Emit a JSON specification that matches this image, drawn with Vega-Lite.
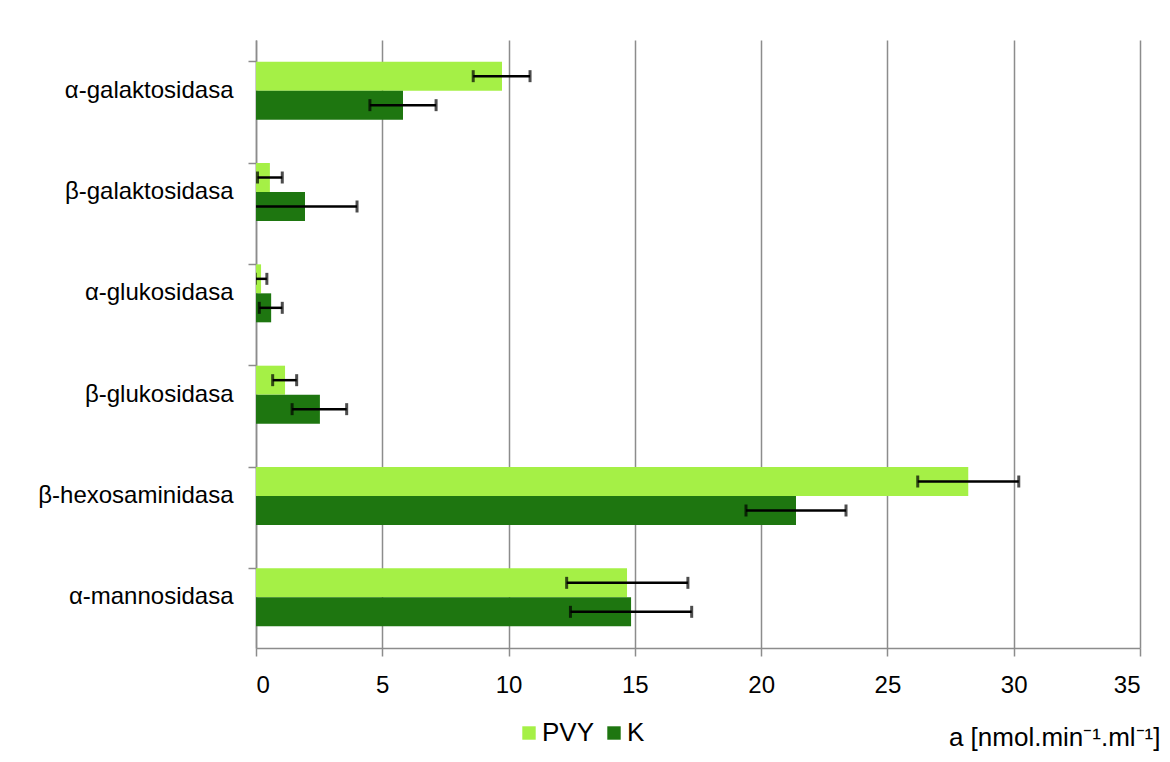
{
  "$schema": "https://vega.github.io/schema/vega-lite/v6.json",
  "width": 884,
  "height": 608,
  "autosize": {"type": "none"},
  "padding": {"left": 256, "top": 40, "right": 30, "bottom": 114},
  "background": "white",
  "config": {
    "view": {"stroke": null},
    "font": "Liberation Sans",
    "axis": {"labelFont": "Liberation Sans", "labelColor": "black", "domainColor": "#8c8c8c", "tickColor": "#8c8c8c", "gridColor": "#8c8c8c", "domainWidth": 1.5, "tickWidth": 1.5, "gridWidth": 1.5}
  },
  "data": {
    "values": [
      {"enzyme": "α-galaktosidasa", "series": "PVY", "value": 9.74, "lo": 8.6, "hi": 10.85},
      {"enzyme": "α-galaktosidasa", "series": "K", "value": 5.82, "lo": 4.51, "hi": 7.13},
      {"enzyme": "β-galaktosidasa", "series": "PVY", "value": 0.55, "lo": 0.06, "hi": 1.04},
      {"enzyme": "β-galaktosidasa", "series": "K", "value": 1.94, "lo": -0.12, "hi": 4.0},
      {"enzyme": "α-glukosidasa", "series": "PVY", "value": 0.2, "lo": -0.03, "hi": 0.43},
      {"enzyme": "α-glukosidasa", "series": "K", "value": 0.6, "lo": 0.13, "hi": 1.04},
      {"enzyme": "β-glukosidasa", "series": "PVY", "value": 1.15, "lo": 0.66, "hi": 1.61},
      {"enzyme": "β-glukosidasa", "series": "K", "value": 2.53, "lo": 1.43, "hi": 3.59},
      {"enzyme": "β-hexosaminidasa", "series": "PVY", "value": 28.2, "lo": 26.2, "hi": 30.2},
      {"enzyme": "β-hexosaminidasa", "series": "K", "value": 21.38, "lo": 19.4, "hi": 23.36},
      {"enzyme": "α-mannosidasa", "series": "PVY", "value": 14.69, "lo": 12.3, "hi": 17.1},
      {"enzyme": "α-mannosidasa", "series": "K", "value": 14.85, "lo": 12.45, "hi": 17.25}
    ]
  },
  "encoding": {
    "y": {
      "field": "enzyme", "type": "nominal",
      "sort": ["α-galaktosidasa", "β-galaktosidasa", "α-glukosidasa", "β-glukosidasa", "β-hexosaminidasa", "α-mannosidasa"],
      "scale": {"paddingInner": 0.428, "paddingOuter": 0.214},
      "axis": {"title": null, "bandPosition": 0, "tickSize": 8, "labelFontSize": 24, "labelPadding": 15, "labelLimit": 300}
    },
    "yOffset": {"field": "series", "type": "nominal", "sort": ["PVY", "K"], "scale": {"paddingInner": 0, "paddingOuter": 0}}
  },
  "layer": [
    {
      "mark": {"type": "bar"},
      "encoding": {
        "x": {
          "field": "value", "type": "quantitative",
          "scale": {"domain": [0, 35]},
          "axis": {
            "values": [0, 5, 10, 15, 20, 25, 30, 35],
            "tickSize": 8, "labelFontSize": 24, "labelPadding": 17,
            "title": "a [nmol.min⁻¹.ml⁻¹]",
            "titleFont": "Liberation Sans", "titleFontSize": 26, "titleFontWeight": "normal", "titleColor": "black",
            "titleAnchor": "end", "titleAlign": "right", "titleBaseline": "alphabetic",
            "titleX": 904, "titleY": 97
          }
        },
        "color": {
          "field": "series", "type": "nominal",
          "scale": {"domain": ["PVY", "K"], "range": ["#A5F046", "#1E7610"]},
          "legend": {
            "title": null, "orient": "none", "direction": "horizontal",
            "legendX": 260, "legendY": 680,
            "symbolType": "square", "symbolSize": 180, "symbolStrokeWidth": 0,
            "labelFontSize": 26, "labelFont": "Liberation Sans", "labelColor": "black",
            "columnPadding": 6, "labelOffset": 0
          }
        }
      }
    },
    {
      "mark": {"type": "rule", "color": "black", "strokeWidth": 2.5, "clip": true},
      "encoding": {
        "x": {"field": "lo", "type": "quantitative"},
        "x2": {"field": "hi"}
      }
    },
    {
      "mark": {"type": "tick", "color": "black", "thickness": 3, "size": 12, "clip": true, "orient": "vertical"},
      "encoding": {"x": {"field": "lo", "type": "quantitative"}}
    },
    {
      "mark": {"type": "tick", "color": "black", "thickness": 3, "size": 12, "clip": true, "orient": "vertical"},
      "encoding": {"x": {"field": "hi", "type": "quantitative"}}
    }
  ]
}
